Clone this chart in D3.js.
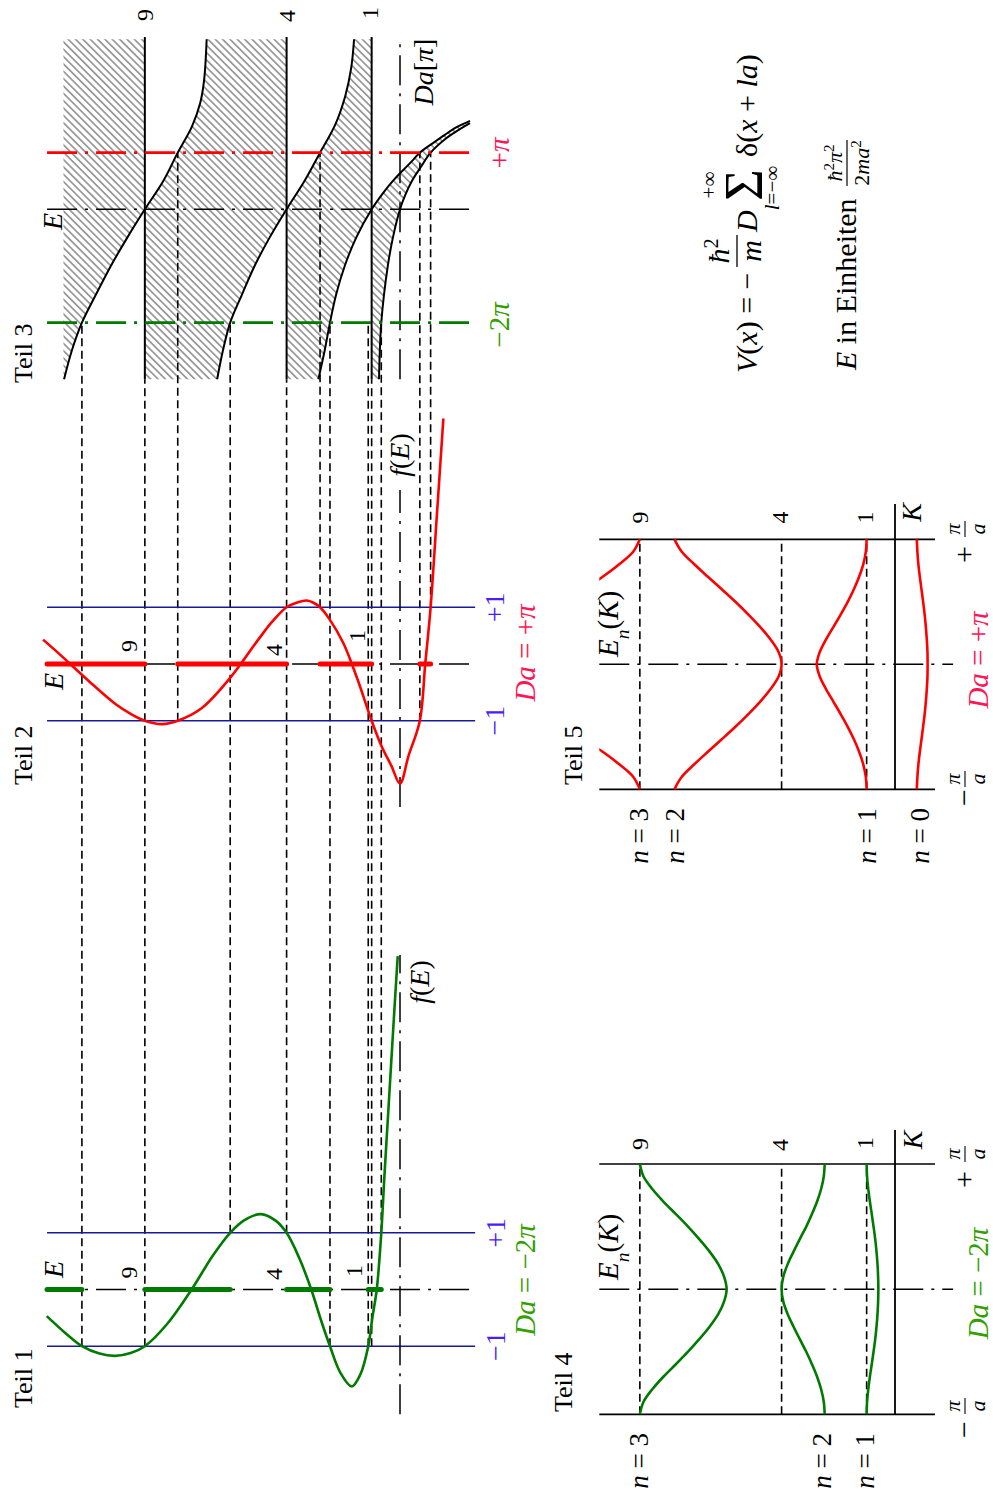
<!DOCTYPE html>
<html>
<head>
<meta charset="utf-8">
<script src="https://cdn.jsdelivr.net/npm/d3@7"></script>
<style>
  html, body { margin: 0; padding: 0; background: #fff; }
  svg { display: block; font-family: "Liberation Serif", "DejaVu Serif", serif; }
</style>
</head>
<body>
<svg id="fig" width="993" height="1497"></svg>
<script>
// Kronig–Penney model with delta potentials.
// Energies in units of ħ²π²/(2ma²), Da in units of π, K in units of π/a.

const levels = [1, 4, 9];          // E = n², always band edges
const daRed = 1;                   // Da = +π
const daGreen = -2;                // Da = −2π

// Teil 1: f(E) for Da = −2π   [E, f]
const fGreen = [
  [12.46, -0.47], [11.8, -0.77], [11.22, -1.0], [10.6, -1.13], [10.05, -1.17],
  [9.5, -1.12], [9.0, -1.0], [8.2, -0.6], [7.35, 0.0], [6.6, 0.6], [5.99, 1.0],
  [5.5, 1.22], [4.91, 1.33], [4.4, 1.22], [4.0, 1.0], [3.55, 0.55], [3.13, 0.0],
  [2.8, -0.52], [2.47, -1.0], [2.1, -1.47], [1.7, -1.71], [1.4, -1.5],
  [1.12, -1.0], [0.97, -0.48], [0.82, 0.0], [0.66, 1.0], [0.55, 2.0],
  [0.43, 3.0], [0.31, 4.0], [0.19, 5.0], [0.08, 5.88]
];

// Teil 2: f(E) for Da = +π   [E, f]
const fRed = [
  [12.59, 0.43], [12.0, 0.17], [11.0, -0.29], [10.0, -0.72], [9.5, -0.88],
  [9.0, -1.0], [8.4, -1.06], [7.84, -1.0], [7.0, -0.78], [6.0, -0.25],
  [5.0, 0.43], [4.5, 0.75], [4.0, 1.0], [3.6, 1.09], [3.29, 1.12], [3.05, 1.08],
  [2.82, 1.0], [2.5, 0.8], [2.0, 0.37], [1.5, -0.27], [1.0, -1.0],
  [0.65, -1.45], [0.3, -1.8], [0.0, -2.11], [-0.3, -1.62], [-0.7, -1.0],
  [-0.89, 0.0], [-1.08, 1.0], [-1.3, 2.62], [-1.53, 4.33]
];

// Teil 3: band-edge curves E(Da)   [Da, E]
const edgeA = [
  [-3, 2.88], [-2.5, 2.66], [-2, 2.47], [-1.5, 2.25], [-1, 1.95], [-0.5, 1.545],
  [0, 1.0], [0.3, 0.578], [0.5, 0.25], [0.637, 0.0], [0.762, -0.25], [0.882, -0.48],
  [1.0, -0.7], [1.164, -1.15], [1.314, -1.58], [1.448, -2.0], [1.56, -2.47]
];
const edgeB = [
  [-3, 0.74], [-2, 0.66], [-1, 0.43], [-0.5, 0.25], [0, 0.0], [0.25, -0.183],
  [0.5, -0.42], [0.75, -0.74], [1.0, -1.08], [1.25, -1.62], [1.38, -2.0], [1.52, -2.47]
];
const edgeC = [
  [-3, 6.45], [-2.5, 6.25], [-2, 5.99], [-1.5, 5.57], [-1, 5.13], [-0.5, 4.6],
  [0, 4.0], [0.5, 3.37], [1.0, 2.82], [1.5, 2.28], [2.0, 1.93], [2.5, 1.72], [3.0, 1.62]
];
const edgeD = [
  [-3, 11.85], [-2.5, 11.58], [-2, 11.22], [-1.5, 10.72], [-1, 10.2], [-0.5, 9.62],
  [0, 9.0], [0.5, 8.35], [1.0, 7.84], [1.46, 7.34], [1.87, 7.05], [2.28, 6.91], [3.0, 6.82]
];
const hatchTopE = 11.87;

// band edges met by the Da lines: [E, f where the guide line ends]
const greenCross = [[11.22, -1], [5.99, 1], [2.47, -1], [1.12, -1], [0.66, 1]];
const redCross = [[7.84, -1], [2.82, 1], [-0.7, -1], [-1.08, 1]];
const levelGuide = [[9, -1], [4, 1], [1, -1]];

// allowed bands marked on the f = 0 axis   [E low, E high]
const greenBands = [[11.22, 12.45], [5.99, 9], [2.47, 4], [0.66, 1.12]];
const redBands = [[9, 12.45], [4, 7.84], [1, 2.82], [-1.08, -0.7]];

// Teil 4: E_n(K) for Da = −2π   [K, E]
const greenN1 = [[-1,1.0],[-0.9,0.985],[-0.8,0.943],[-0.7,0.886],[-0.6,0.82],[-0.5,0.757],[-0.4,0.698],[-0.3,0.652],[-0.2,0.617],[-0.1,0.596],[0,0.587],[0.1,0.596],[0.2,0.617],[0.3,0.652],[0.4,0.698],[0.5,0.757],[0.6,0.82],[0.7,0.886],[0.8,0.943],[0.9,0.985],[1,1.0]];
const greenN2 = [[-1,2.48],[-0.9,2.513],[-0.8,2.606],[-0.7,2.748],[-0.6,2.929],[-0.5,3.13],[-0.4,3.358],[-0.3,3.578],[-0.2,3.785],[-0.1,3.94],[0,4.0],[0.1,3.94],[0.2,3.785],[0.3,3.578],[0.4,3.358],[0.5,3.13],[0.6,2.929],[0.7,2.748],[0.8,2.606],[0.9,2.513],[1,2.48]];
const greenN3 = [[-1,9.0],[-0.9,8.87],[-0.8,8.56],[-0.7,8.17],[-0.6,7.73],[-0.5,7.3],[-0.4,6.905],[-0.3,6.54],[-0.2,6.235],[-0.1,6.03],[0,5.94],[0.1,6.03],[0.2,6.235],[0.3,6.54],[0.4,6.905],[0.5,7.3],[0.6,7.73],[0.7,8.17],[0.8,8.56],[0.9,8.87],[1,9.0]];

// Teil 5: E_n(K) for Da = +π   [K, E]
const redN0 = [[-1,-0.77],[-0.9,-0.79],[-0.8,-0.825],[-0.7,-0.876],[-0.6,-0.934],[-0.5,-0.992],[-0.4,-1.045],[-0.3,-1.088],[-0.2,-1.121],[-0.1,-1.145],[0,-1.15],[0.1,-1.145],[0.2,-1.121],[0.3,-1.088],[0.4,-1.045],[0.5,-0.992],[0.6,-0.934],[0.7,-0.876],[0.8,-0.825],[0.9,-0.79],[1,-0.77]];
const redN1 = [[-1,1.0],[-0.9,1.03],[-0.8,1.12],[-0.7,1.265],[-0.6,1.45],[-0.5,1.667],[-0.4,1.912],[-0.3,2.17],[-0.2,2.43],[-0.1,2.65],[0,2.76],[0.1,2.65],[0.2,2.43],[0.3,2.17],[0.4,1.912],[0.5,1.667],[0.6,1.45],[0.7,1.265],[0.8,1.12],[0.9,1.03],[1,1.0]];
const redN2 = [[-1,7.78],[-0.9,7.52],[-0.8,7.08],[-0.7,6.6],[-0.6,6.11],[-0.5,5.63],[-0.4,5.18],[-0.3,4.76],[-0.2,4.395],[-0.1,4.11],[0,4.0],[0.1,4.11],[0.2,4.395],[0.3,4.76],[0.4,5.18],[0.5,5.63],[0.6,6.11],[0.7,6.6],[0.8,7.08],[0.9,7.52],[1,7.78]];
const redN3L = [[-1,9.0],[-0.9,9.236],[-0.8,9.727],[-0.7,10.31],[-0.6,10.97]];
const redN3R = [[0.6,10.97],[0.7,10.31],[0.8,9.727],[0.9,9.236],[1,9.0]];

// ---------------------------------------------------------------
const RED = "#ff0000", GREEN = "#007a00", NAVY = "#1a1a96";
const LBLUE = "#4a1cff", LRED = "#ff1655", LGREEN = "#33a000";
const DASH = "8,4.5", DASHDOT = "30,8,3,8";

const svg = d3.select("#fig");
const defs = svg.append("defs");
const hp = defs.append("pattern").attr("id", "hatch")
  .attr("patternUnits", "userSpaceOnUse").attr("width", 5.2).attr("height", 10)
  .attr("patternTransform", "rotate(45)");
hp.append("line").attr("x1", 2.6).attr("y1", -1).attr("x2", 2.6).attr("y2", 11)
  .attr("stroke", "#000").attr("stroke-width", 0.75);
defs.append("clipPath").attr("id", "clipTeil5").append("rect")
  .attr("x", 690).attr("y", 599.3).attr("width", 290).attr("height", 400);
defs.append("clipPath").attr("id", "clipTeil4").append("rect")
  .attr("x", 60).attr("y", 599.3).attr("width", 290).attr("height", 400);

// the sheet is laid out in landscape and turned a quarter turn
const g = svg.append("g").attr("transform", "translate(0,1497) rotate(-90)");

// scales (landscape coordinates)
const yE = d3.scaleLinear().domain([0, 9]).range([400, 400 - 9 * 28.35]);
const yK = d3.scaleLinear().domain([0, 9]).range([895, 895 - 9 * 28.35]);
const x1 = d3.scaleLinear().domain([-1, 1]).range([150.8, 264.2]);
const x2 = d3.scaleLinear().domain([-1, 1]).range([776.3, 889.7]);
const x3 = d3.scaleLinear().domain([-3, 3]).range([1117.7, 1457.7]);
const k4 = d3.scaleLinear().domain([-1, 1]).range([82.7, 333]);
const k5 = d3.scaleLinear().domain([-1, 1]).range([707.7, 957.7]);
const Etop = 12.45, Ebot = -2.65;

function seg(xa, ya, xb, yb, color, w, dash, cap) {
  const l = g.append("line").attr("x1", xa).attr("y1", ya).attr("x2", xb).attr("y2", yb)
    .attr("stroke", color).attr("stroke-width", w);
  if (dash) l.attr("stroke-dasharray", dash);
  if (cap) l.attr("stroke-linecap", cap);
  return l;
}
const smooth = d3.curveCatmullRom.alpha(0.5);
const edgeLine = d3.line().x(p => x3(p[0])).y(p => yE(p[1])).curve(smooth);
const fLine = xs => d3.line().x(p => xs(p[1])).y(p => yE(p[0])).curve(smooth);
const bandLine = (ks, ys) => d3.line().x(p => ks(p[0])).y(p => ys(p[1])).curve(smooth);

// ---------- Teil 3: hatched allowed regions ----------
const pt = (d, E) => `${x3(d)},${yE(E)}`;
const tail = pts => edgeLine(pts).replace(/^M/, "L");
const rev = a => a.slice().reverse();
const neg = a => a.filter(p => p[0] <= 0);
const pos = a => a.filter(p => p[0] >= 0);
const regions = [
  `M${pt(-3, hatchTopE)}L${pt(3, hatchTopE)}L${pt(3, 9)}L${pt(0, 9)}${tail(rev(neg(edgeD)))}Z`,
  `M${pt(-3, 9)}L${pt(0, 9)}${tail(pos(edgeD))}L${pt(3, 4)}L${pt(0, 4)}${tail(rev(neg(edgeC)))}Z`,
  `M${pt(-3, 4)}L${pt(0, 4)}${tail(pos(edgeC))}L${pt(3, 1)}L${pt(0, 1)}${tail(rev(neg(edgeA)))}Z`,
  `M${pt(-3, 1)}L${pt(0, 1)}${tail(pos(edgeA))}${tail(rev(edgeB))}Z`
];
g.selectAll("path.band").data(regions).join("path").attr("class", "band")
  .attr("d", d => d).attr("fill", "url(#hatch)").attr("stroke", "none");

// ---------- dashed guide lines ----------
greenCross.forEach(([E, f]) => seg(x1(f), yE(E), x3(daGreen), yE(E), "#000", 1.6, DASH));
redCross.forEach(([E, f]) => seg(x2(f), yE(E), x3(daRed), yE(E), "#000", 1.6, DASH));
levelGuide.forEach(([E, f]) => seg(x1(f), yE(E), x3(-3), yE(E), "#000", 1.6, DASH));

// ---------- Teil 1 and Teil 2 frames ----------
[[x1, -2.2, 5.9], [x2, -2.52, 3.07]].forEach(([xs, fa, fb]) => {
  [-1, 1].forEach(v => seg(xs(v), yE(Etop), xs(v), yE(Ebot), NAVY, 1.4));
  seg(xs(0), yE(Etop), xs(0), yE(Ebot), "#000", 1.5, DASHDOT);
  seg(xs(fa), yE(0), xs(fb), yE(0), "#000", 1.5, DASHDOT);
});

// ---------- Teil 3 axes, levels, curves ----------
seg(x3(0), yE(Etop), x3(0), yE(Ebot), "#000", 1.5, DASHDOT);
seg(x3(-3), yE(0), x3(3.04), yE(0), "#000", 1.5, DASHDOT);
levels.forEach(E => seg(x3(-3), yE(E), x3(3.04), yE(E), "#000", 2));
[edgeA, edgeB, edgeC, edgeD].forEach(c =>
  g.append("path").attr("d", edgeLine(c)).attr("fill", "none").attr("stroke", "#000").attr("stroke-width", 2));
seg(x3(daRed), yE(Etop), x3(daRed), yE(Ebot), RED, 2.6, DASHDOT);
seg(x3(daGreen), yE(Etop), x3(daGreen), yE(Ebot), GREEN, 2.6, DASHDOT);

// ---------- allowed bands on the f = 0 axis ----------
greenBands.forEach(([a, b]) => seg(x1(0), yE(a), x1(0), yE(b), GREEN, 5, null, "round"));
redBands.forEach(([a, b]) => seg(x2(0), yE(a), x2(0), yE(b), RED, 5, null, "round"));

// ---------- f(E) curves ----------
g.append("path").attr("d", fLine(x1)(fGreen)).attr("fill", "none").attr("stroke", GREEN).attr("stroke-width", 2.6);
g.append("path").attr("d", fLine(x2)(fRed)).attr("fill", "none").attr("stroke", RED).attr("stroke-width", 2.6);

// ---------- Teil 4 and Teil 5: band structure ----------
[[k4, 367], [k5, 993]].forEach(([ks, kEnd]) => {
  [-1, 1].forEach(v => seg(ks(v), yK(10.43), ks(v), yK(-1.41), "#000", 1.7));
  seg(ks(0), yK(10.43), ks(0), yK(-2.05), "#000", 1.5, DASHDOT);
  seg(ks(-1), yK(0), kEnd, yK(0), "#000", 1.8);
  levels.forEach(E => seg(ks(-1), yK(E), ks(1), yK(E), "#000", 1.6, DASH));
});
[greenN1, greenN2, greenN3].forEach(b =>
  g.append("path").attr("d", bandLine(k4, yK)(b)).attr("fill", "none")
    .attr("stroke", GREEN).attr("stroke-width", 2.6).attr("clip-path", "url(#clipTeil4)"));
[redN0, redN1, redN2, redN3L, redN3R].forEach(b =>
  g.append("path").attr("d", bandLine(k5, yK)(b)).attr("fill", "none")
    .attr("stroke", RED).attr("stroke-width", 2.6).attr("clip-path", "url(#clipTeil5)"));

// ---------- text ----------
function rich(x, y, size, anchor, fill, parts) {
  const t = g.append("text").attr("x", x).attr("y", y).attr("font-size", size)
    .attr("text-anchor", anchor).attr("fill", fill);
  parts.forEach(p => {
    const s = t.append("tspan").text(p[0]);
    const o = p[1] || "";
    if (o.includes("i")) s.attr("font-style", "italic");
    if (o.includes("^")) s.attr("baseline-shift", "super").attr("font-size", size * 0.68);
    if (o.includes("_")) s.attr("baseline-shift", "sub").attr("font-size", size * 0.68);
  });
  return t;
}
const plain = (x, y, size, anchor, fill, s) => rich(x, y, size, anchor, fill, [[s]]);

// titles
[["Teil 1", 89, 32], ["Teil 2", 712, 32], ["Teil 3", 1114, 32],
 ["Teil 4", 85, 572], ["Teil 5", 712, 582]].forEach(([s, x, y]) => plain(x, y, 26, "start", "#000", s));

// level numbers
const numRows = [
  [[224.5, 137], [223, 282], [226, 362]],
  [[851, 137], [847, 282], [861, 365]],
  [[1482, 153], [1481, 295], [1484, 378]],
  [[353, 648], [352, 788], [354, 873]],
  [[979.5, 648], [979.5, 788], [979.5, 873]]
];
numRows.forEach(row => row.forEach(([x, y], i) => plain(x, y, 24, "middle", "#000", String(levels[2 - i]))));

// energy axis labels
[[219, 63], [807, 63], [1267, 62]].forEach(([x, y]) => rich(x, y, 28, "start", "#000", [["E", "i"]]));

// ±1 marks
[[x1, 505], [x2, 504]].forEach(([xs, y]) => {
  plain(xs(-1), y, 28, "middle", LBLUE, "−1");
  plain(xs(1), y, 28, "middle", LBLUE, "+1");
});

// Da labels
rich(217, 535, 29, "middle", LGREEN, [["Da", "i"], [" = −2"], ["π", "i"]]);
rich(844, 535, 29, "middle", LRED, [["Da", "i"], [" = +"], ["π", "i"]]);
rich(213.5, 988, 29, "middle", LGREEN, [["Da", "i"], [" = −2"], ["π", "i"]]);
rich(837, 988, 29, "middle", LRED, [["Da", "i"], [" = +"], ["π", "i"]]);
rich(1344, 509, 29, "middle", LRED, [["+"], ["π", "i"]]);
rich(1172, 509, 29, "middle", LGREEN, [["−2"], ["π", "i"]]);

// axis names
rich(515, 429, 28, "middle", "#000", [["f", "i"], ["("], ["E", "i"], [")"]]);
rich(1042, 409, 28, "middle", "#000", [["f", "i"], ["("], ["E", "i"], [")"]]);
rich(1425, 433, 28, "middle", "#000", [["Da", "i"], ["["], ["π", "i"], ["]"]]);

// Teil 4 / Teil 5 labels
[217, 840].forEach(x => rich(x, 618, 29, "start", "#000", [["E", "i"], ["n", "i_"], ["("], ["K", "i"], [")"]]));
rich(357, 922, 28, "middle", "#000", [["K", "i"]]);
rich(984.5, 921, 28, "middle", "#000", [["K", "i"]]);
[[64, 648, "3"], [64, 831, "2"], [64, 874, "1"],
 [689, 648, "3"], [689, 684, "2"], [689, 876, "1"], [689, 929, "0"]]
  .forEach(([x, y, n]) => rich(x, y, 27, "end", "#000", [["n", "i"], [" = " + n]]));

function piOverA(xSign, sign, xFrac) {
  plain(xSign, 974, 30, "middle", "#000", sign);
  rich(xFrac, 960, 22, "middle", "#000", [["π", "i"]]);
  seg(xFrac - 8, 965, xFrac + 8, 965, "#000", 1.1);
  rich(xFrac, 985, 22, "middle", "#000", [["a", "i"]]);
}
piOverA(67.5, "−", 91);
piOverA(317.5, "+", 343);
piOverA(699.5, "−", 718);
piOverA(942.5, "+", 968);

// potential and energy unit
rich(1124, 757, 30, "start", "#000", [["V", "i"], ["("], ["x", "i"], [") = −"]]);
rich(1246, 729, 30, "middle", "#000", [["ħ", "i"], ["2", "^"]]);
seg(1230, 737, 1262, 737, "#000", 1.3);
rich(1246, 761, 30, "middle", "#000", [["m", "i"]]);
rich(1265, 757, 30, "start", "#000", [["D", "i"]]);
plain(1312, 762, 54, "middle", "#000", "Σ");
plain(1312, 716, 21, "middle", "#000", "+∞");
rich(1309, 779, 21, "middle", "#000", [["l", "i"], ["=−∞"]]);
rich(1340, 757, 30, "start", "#000", [["δ"], ["("], ["x", "i"], [" + "], ["la", "i"], [")"]]);

rich(1127, 856, 30, "start", "#000", [["E", "i"], [" in Einheiten"]]);
rich(1334, 842, 22, "middle", "#000", [["ħ", "i"], ["2", "^"], ["π", "i"], ["2", "^"]]);
seg(1311, 847, 1357, 847, "#000", 1.2);
rich(1334, 869, 22, "middle", "#000", [["2"], ["ma", "i"], ["2", "^"]]);
</script>
</body>
</html>
